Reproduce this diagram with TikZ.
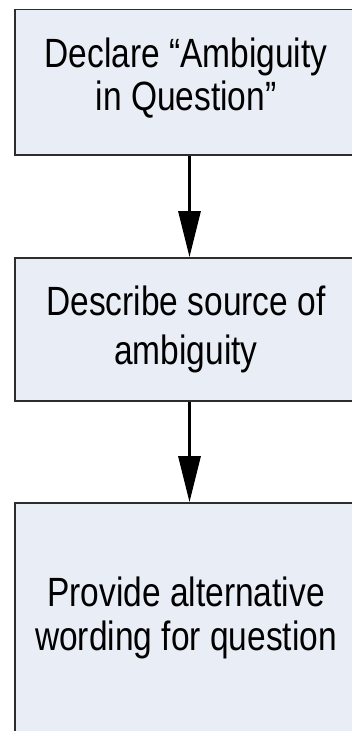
\documentclass[tikz,border=0pt]{standalone}
\usepackage{fontspec}
\setmainfont{Liberation Sans}
\usetikzlibrary{arrows.meta}
\definecolor{boxfill}{RGB}{233,237,246}
\definecolor{boxline}{RGB}{45,45,45}
\begin{document}
\begin{tikzpicture}[x=1pt,y=1pt,
  flowbox/.style={draw=boxline,line width=1.8pt,fill=boxfill,minimum width=349pt,inner sep=0pt},
  boxtext/.style={anchor=base,inner sep=0pt,font=\fontsize{33.5}{40}\selectfont,yscale=1.22},
  flowarrow/.style={line width=3pt,-{Triangle[length=46pt,width=22pt]}}]
\useasboundingbox (0,0) rectangle (352,-731);
\clip (0,0) rectangle (352,-731);
\fill[white] (0,0) rectangle (352,-731);
\node[flowbox,minimum height=145.5pt] (b1) at (189.5,-82.25) {};
\node[flowbox,minimum height=143pt] (b2) at (189.5,-329.5) {};
\node[flowbox,minimum height=237pt] (b3) at (189.5,-621.5) {};
\node[boxtext] (t1a) at (186,-67) {Declare “Ambiguity};
\node[boxtext] (t1b) at (186,-110) {in Question”};
\node[boxtext] (t2a) at (186,-315) {Describe source of};
\node[boxtext] (t2b) at (186,-364) {ambiguity};
\node[boxtext] (t3a) at (186,-606) {Provide alternative};
\node[boxtext] (t3b) at (186,-650) {wording for question};
\draw[flowarrow] (b1.south) -- (b2.north);
\draw[flowarrow] (b2.south) -- (b3.north);
\end{tikzpicture}
\end{document}
